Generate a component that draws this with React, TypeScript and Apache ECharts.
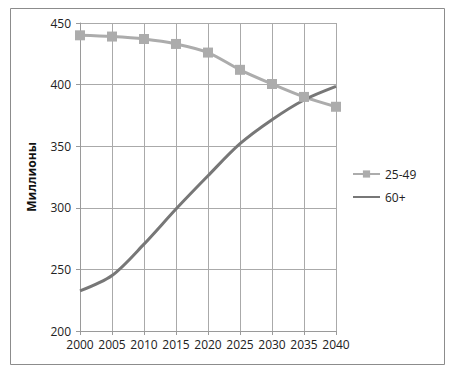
import React, { useEffect, useRef } from "react";
import * as echarts from "echarts";

const years = ["2000", "2005", "2010", "2015", "2020", "2025", "2030", "2035", "2040"];
const age25to49 = [440, 439, 437, 433, 426, 412, 400.5, 390, 382];
const age60plus = [232.5, 245, 270.5, 299, 326, 352, 371.5, 387.5, 398.5];
const seriesNames = ["25-49", "60+"];
const yAxisName = "Миллионы";

export default function App() {
  const ref = useRef<HTMLDivElement>(null);
  useEffect(() => {
    if (!ref.current) return;
    const chart = echarts.init(ref.current, undefined, { renderer: "svg" });
    const font = "'Open Sans', 'Noto Sans', sans-serif";
    chart.setOption({
      animation: false,
      backgroundColor: "#ffffff",
      textStyle: { fontFamily: font },
      graphic: [
        {
          type: "rect",
          shape: { x: 10.5, y: 8.5, width: 434, height: 356 },
          style: { fill: "none", stroke: "#8c8c8c", lineWidth: 1 },
          silent: true,
        },
      ],
      grid: { left: 80, right: 119, top: 23, bottom: 38, containLabel: false },
      legend: {
        orient: "vertical",
        left: 347,
        top: 163,
        itemWidth: 27,
        itemHeight: 9,
        itemGap: 11,
        data: [
          { name: seriesNames[0] },
          { name: seriesNames[1], itemStyle: { opacity: 0 } },
        ],
        textStyle: { fontFamily: font, fontSize: 12, color: "#222" },
      },
      xAxis: {
        type: "category",
        data: years,
        boundaryGap: false,
        axisLine: { lineStyle: { color: "#9a9a9a", width: 1 } },
        axisTick: { show: true, length: 4, interval: 0, lineStyle: { color: "#9a9a9a" } },
        axisLabel: { color: "#222", fontSize: 12, margin: 7, interval: 0, fontFamily: font },
        splitLine: { show: true, interval: 0, lineStyle: { color: "#aaaaaa", width: 1 } },
      },
      yAxis: {
        type: "value",
        min: 200,
        max: 450,
        interval: 50,
        name: yAxisName,
        nameLocation: "middle",
        nameGap: 43,
        nameRotate: 90,
        nameTextStyle: { fontWeight: "bold", fontSize: 12, color: "#111", fontFamily: font },
        axisLine: { show: true, lineStyle: { color: "#9a9a9a", width: 1 } },
        axisTick: { show: true, length: 4, lineStyle: { color: "#9a9a9a" } },
        axisLabel: { color: "#222", fontSize: 12, margin: 9, fontFamily: font },
        splitLine: { show: true, lineStyle: { color: "#aaaaaa", width: 1 } },
      },
      series: [
        {
          name: seriesNames[0],
          type: "line",
          data: age25to49,
          smooth: 0.3,
          symbol: "rect",
          symbolSize: 10,
          itemStyle: { color: "#acacac" },
          lineStyle: { color: "#acacac", width: 3 },
        },
        {
          name: seriesNames[1],
          type: "line",
          data: age60plus,
          smooth: 0.3,
          symbol: "none",
          showSymbol: false,
          itemStyle: { color: "#777777" },
          lineStyle: { color: "#777777", width: 3 },
        },
      ],
    });
    return () => chart.dispose();
  }, []);
  return <div ref={ref} style={{ width: 455, height: 369, position: "absolute", left: 0, top: 0 }} />;
}
